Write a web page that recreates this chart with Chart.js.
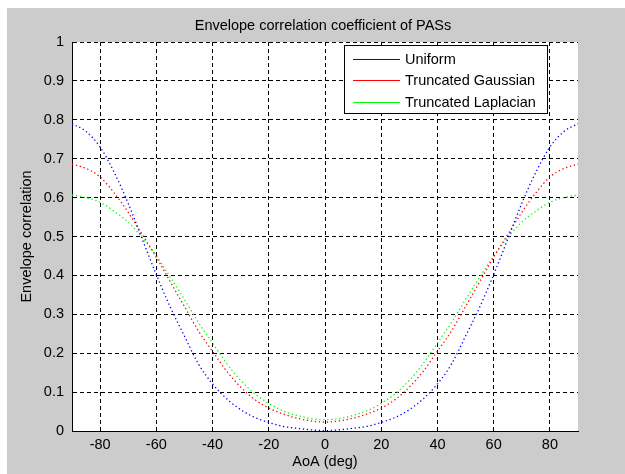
<!DOCTYPE html>
<html>
<head>
<meta charset="utf-8">
<script src="https://cdn.jsdelivr.net/npm/chart.js@4"></script>
<style>
  html, body { margin: 0; padding: 0; background: #fff; }
  #fig { position: absolute; left: 7px; top: 8px; width: 618px; height: 466px; background: #cccccc; }
  canvas { display: block; }
</style>
</head>
<body>
<div id="fig"><canvas id="chart1" width="618" height="466"></canvas></div>
<script>
const angles = [-90, -85, -80, -75, -70, -65, -60, -55, -50, -45, -40, -35, -30, -25, -20, -15, -10, -5, 0,
  5, 10, 15, 20, 25, 30, 35, 40, 45, 50, 55, 60, 65, 70, 75, 80, 85, 90];
const uniform = [0.790, 0.770, 0.730, 0.665, 0.585, 0.493, 0.402, 0.318, 0.244, 0.172, 0.121, 0.083, 0.055, 0.035, 0.022, 0.012, 0.007, 0.003, 0.001,
  0.003, 0.007, 0.012, 0.022, 0.035, 0.055, 0.083, 0.121, 0.172, 0.244, 0.318, 0.402, 0.493, 0.585, 0.665, 0.730, 0.770, 0.790];
const gaussian = [0.686, 0.675, 0.653, 0.612, 0.562, 0.505, 0.447, 0.383, 0.320, 0.257, 0.205, 0.154, 0.113, 0.081, 0.059, 0.044, 0.033, 0.026, 0.023,
  0.026, 0.033, 0.044, 0.059, 0.081, 0.113, 0.154, 0.205, 0.257, 0.320, 0.383, 0.447, 0.505, 0.562, 0.612, 0.653, 0.675, 0.686];
const laplacian = [0.607, 0.600, 0.588, 0.565, 0.537, 0.497, 0.450, 0.395, 0.338, 0.279, 0.226, 0.174, 0.130, 0.096, 0.071, 0.052, 0.040, 0.032, 0.029,
  0.032, 0.040, 0.052, 0.071, 0.096, 0.130, 0.174, 0.226, 0.279, 0.338, 0.395, 0.450, 0.497, 0.537, 0.565, 0.588, 0.600, 0.607];
const seriesNames = ['Uniform', 'Truncated Gaussian', 'Truncated Laplacian'];
const seriesColors = ['#0000ff', '#ff0000', '#00ff00'];
const xTicks = [-80, -60, -40, -20, 0, 20, 40, 60, 80];
const titleText = 'Envelope correlation coefficient of PASs';

const FONT = { family: '"Liberation Sans", Arial, sans-serif', size: 14.5 };

const toPoints = (ys) => angles.map((a, i) => ({ x: a, y: ys[i] }));

// white axes background + title above the axes
const plotBg = {
  id: 'plotBg',
  beforeDraw(chart) {
    const { ctx, chartArea: a } = chart;
    ctx.save();
    ctx.fillStyle = '#ffffff';
    ctx.fillRect(a.left, a.top, a.right - a.left, a.bottom - a.top);
    ctx.font = `${FONT.size}px ${FONT.family}`;
    ctx.fillStyle = '#000000';
    ctx.textAlign = 'center';
    ctx.textBaseline = 'alphabetic';
    ctx.fillText(titleText, (a.left + a.right) / 2 - 2, a.top - 12.5);
    ctx.restore();
  }
};

// matlab-style legend box inside the axes
const boxLegend = {
  id: 'boxLegend',
  afterDraw(chart) {
    const { ctx, chartArea: a } = chart;
    const w = 204, h = 69;
    const x0 = a.right - 30 - w, y0 = a.top + 3;
    ctx.save();
    ctx.fillStyle = '#ffffff';
    ctx.fillRect(x0, y0, w, h);
    ctx.strokeStyle = '#000000';
    ctx.lineWidth = 1;
    ctx.strokeRect(x0 + 0.5, y0 + 0.5, w - 1, h - 1);
    ctx.font = `${FONT.size}px ${FONT.family}`;
    ctx.textBaseline = 'middle';
    ctx.fillStyle = '#000000';
    chart.data.datasets.forEach((ds, i) => {
      const y = Math.round(y0 + 13.5 + i * 21.7) + 0.5;
      ctx.strokeStyle = ds.borderColor;
      ctx.beginPath();
      ctx.moveTo(x0 + 9, y);
      ctx.lineTo(x0 + 56, y);
      ctx.stroke();
      ctx.fillText(ds.label, x0 + 61, y);
    });
    ctx.restore();
  }
};

new Chart(document.getElementById('chart1'), {
  type: 'line',
  data: {
    datasets: [uniform, gaussian, laplacian].map((ys, i) => ({
      label: seriesNames[i],
      data: toPoints(ys),
      borderColor: seriesColors[i],
      borderWidth: 1.3,
      borderDash: [1.3, 2.7],
      pointRadius: 0,
      fill: false,
      cubicInterpolationMode: 'monotone'
    }))
  },
  options: {
    responsive: false,
    animation: false,
    devicePixelRatio: 1,
    layout: { padding: { left: 0, right: 47, top: 34, bottom: 0 } },
    plugins: {
      legend: { display: false },
      tooltip: { enabled: false },
      title: { display: false }
    },
    scales: {
      x: {
        type: 'linear',
        min: -90,
        max: 90,
        afterBuildTicks: (axis) => { axis.ticks = xTicks.map((v) => ({ value: v })); },
        afterFit: (axis) => { axis.height = 43; },
        ticks: { color: '#000', font: FONT, padding: 5, autoSkip: false, maxRotation: 0 },
        grid: { color: '#000', lineWidth: 1, drawTicks: false },
        border: { display: true, color: '#000', width: 1, dash: [4, 3] },
        title: { display: true, text: 'AoA (deg)', color: '#000', font: FONT, padding: { top: 0, bottom: 3 } }
      },
      y: {
        min: 0,
        max: 1,
        afterFit: (axis) => { axis.width = 65; },
        ticks: {
          stepSize: 0.1,
          color: '#000',
          font: FONT,
          padding: 8,
          callback: (v) => String(+v.toFixed(1))
        },
        grid: { color: '#000', lineWidth: 1, drawTicks: false },
        border: { display: true, color: '#000', width: 1, dash: [4, 3] },
        title: { display: true, text: 'Envelope correlation', color: '#000', font: FONT, padding: { top: 11.3, bottom: 0 } }
      }
    }
  },
  plugins: [plotBg, boxLegend]
});
</script>
</body>
</html>
